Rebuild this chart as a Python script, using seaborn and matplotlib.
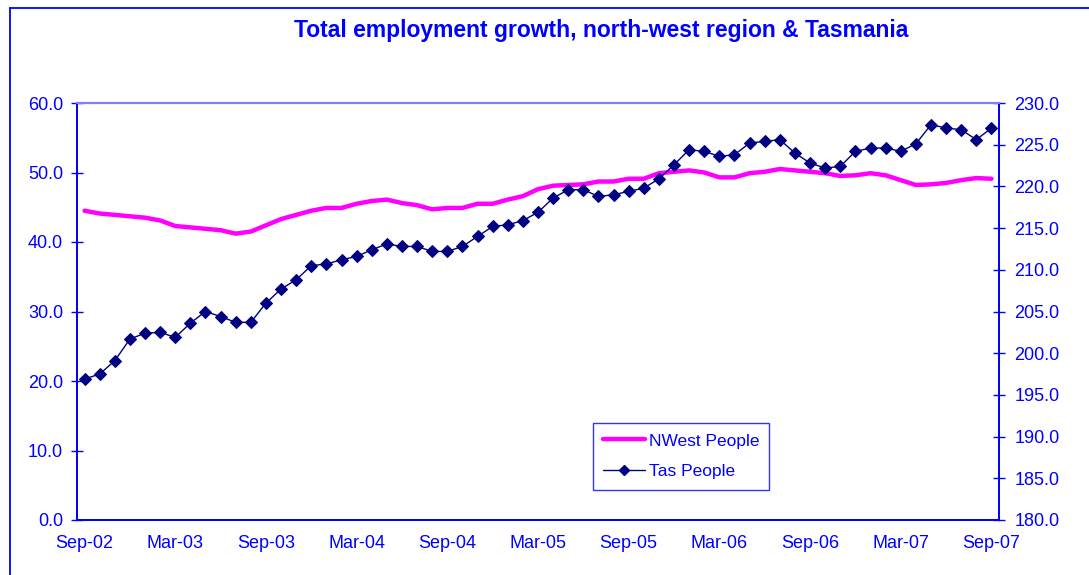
import matplotlib
matplotlib.use("Agg")
import matplotlib.pyplot as plt
from matplotlib.lines import Line2D
import seaborn as sns
import pandas as pd

# Monthly figures, Sep-02 .. Sep-07 (61 months)
months = pd.date_range("2002-09-01", "2007-09-01", freq="MS").strftime("%b-%y").tolist()

nwest_people = [
    44.5, 44.1, 43.9, 43.7, 43.5, 43.1, 42.3, 42.1, 41.9, 41.7,
    41.2, 41.5, 42.4, 43.3, 43.9, 44.5, 44.9, 44.9, 45.5, 45.9,
    46.1, 45.6, 45.3, 44.7, 44.9, 44.9, 45.5, 45.5, 46.1, 46.6,
    47.6, 48.1, 48.2, 48.3, 48.7, 48.7, 49.1, 49.1, 49.9, 50.1,
    50.3, 50.0, 49.3, 49.3, 49.9, 50.1, 50.5, 50.3, 50.1, 49.9,
    49.5, 49.6, 49.9, 49.6, 48.9, 48.2, 48.3, 48.5, 48.9, 49.2,
    49.1,
]

tas_people = [
    196.9, 197.5, 199.1, 201.7, 202.4, 202.5, 201.9, 203.6, 205.0, 204.4,
    203.7, 203.7, 206.0, 207.7, 208.8, 210.5, 210.7, 211.2, 211.6, 212.4,
    213.1, 212.8, 212.8, 212.2, 212.2, 212.8, 214.0, 215.2, 215.4, 215.9,
    216.9, 218.6, 219.6, 219.6, 218.8, 219.0, 219.4, 219.8, 220.9, 222.6,
    224.4, 224.2, 223.6, 223.8, 225.2, 225.4, 225.6, 224.0, 222.8, 222.2,
    222.4, 224.2, 224.6, 224.6, 224.2, 225.1, 227.4, 227.0, 226.8, 225.6,
    227.0,
]

tick_labels = ["Sep-02", "Mar-03", "Sep-03", "Mar-04", "Sep-04", "Mar-05",
               "Sep-05", "Mar-06", "Sep-06", "Mar-07", "Sep-07"]

left_ticks = [0, 10, 20, 30, 40, 50, 60]
right_ticks = [180, 185, 190, 195, 200, 205, 210, 215, 220, 225, 230]

df = pd.DataFrame({"month": months, "idx": range(len(months)),
                   "NWest People": nwest_people, "Tas People": tas_people})

BLUE = "#0000FF"
MAGENTA = "#FF00FF"
NAVY = "#000080"
FS = 13

sns.set_style("white")
plt.rcParams["font.family"] = ["Liberation Sans", "DejaVu Sans"]

fig = plt.figure(figsize=(10.89, 5.75), dpi=100)
ax = fig.add_axes([77 / 1089, 1 - 520 / 575, (999 - 77) / 1089, (520 - 103) / 575])
ax2 = ax.twinx()

sns.lineplot(data=df, x="idx", y="NWest People", ax=ax, color=MAGENTA, linewidth=3.2)
sns.lineplot(data=df, x="idx", y="Tas People", ax=ax2, color=NAVY, linewidth=1.0,
             marker="D", markersize=6, markeredgecolor=NAVY)

ax.set_xlim(-0.5, len(months) - 0.5)
ax.set_ylim(0, 60)
ax2.set_ylim(180, 230)

# labels centred on categories, tick marks on category boundaries
label_pos = list(range(0, len(months), 6))
ax.set_xticks(label_pos)
ax.set_xticklabels(tick_labels)
ax.tick_params(axis="x", which="major", length=0, pad=11, labelsize=FS, labelcolor=BLUE)
ax.set_xticks([p - 0.5 for p in label_pos], minor=True)
ax.tick_params(axis="x", which="minor", direction="inout", length=8, color=BLUE, width=1)

ax.set_yticks(left_ticks)
ax.set_yticklabels([f"{v:.1f}" for v in left_ticks])
ax.tick_params(axis="y", direction="inout", length=8, color=BLUE, width=1,
               labelsize=FS, labelcolor=BLUE, pad=6)
ax2.set_yticks(right_ticks)
ax2.set_yticklabels([f"{v:.1f}" for v in right_ticks])
ax2.tick_params(axis="y", direction="inout", length=8, color=BLUE, width=1,
                labelsize=FS, labelcolor=BLUE, pad=7)

ax.set_xlabel("")
ax.set_ylabel("")
ax2.set_ylabel("")

for a in (ax, ax2):
    for side in ("left", "bottom", "right"):
        a.spines[side].set_color(BLUE)
        a.spines[side].set_linewidth(1.3)
    a.spines["top"].set_color("#7F7FFF")
    a.spines["top"].set_linewidth(1.5)

ax.grid(False)
ax2.grid(False)

handles = [
    Line2D([], [], color=MAGENTA, linewidth=3.2),
    Line2D([], [], color=NAVY, linewidth=1.0, marker="D", markersize=5),
]
leg = fig.legend(handles, ["NWest People", "Tas People"],
                 loc="upper left", bbox_to_anchor=(593 / 1089, 1 - 423 / 575),
                 frameon=True, fancybox=False, edgecolor=BLUE, fontsize=12.5,
                 handlelength=2.4, handletextpad=0.2, labelspacing=0.9,
                 borderpad=0.6, borderaxespad=0)
leg.get_frame().set_linewidth(1.0)
for t in leg.get_texts():
    t.set_color(BLUE)

fig.text(601 / 1089, 1 - 30 / 575, "Total employment growth, north-west region & Tasmania",
         ha="center", va="center", fontsize=16.5, fontweight="bold", color=BLUE)

# outer chart frame (left and top edges visible)
fig.add_artist(Line2D([10 / 1089, 10 / 1089], [0, 1 - 8 / 575],
                      transform=fig.transFigure, color=BLUE, linewidth=1.3))
fig.add_artist(Line2D([10 / 1089, 1], [1 - 8 / 575, 1 - 8 / 575],
                      transform=fig.transFigure, color=BLUE, linewidth=1.3))

fig.savefig("out.png", dpi=100)
